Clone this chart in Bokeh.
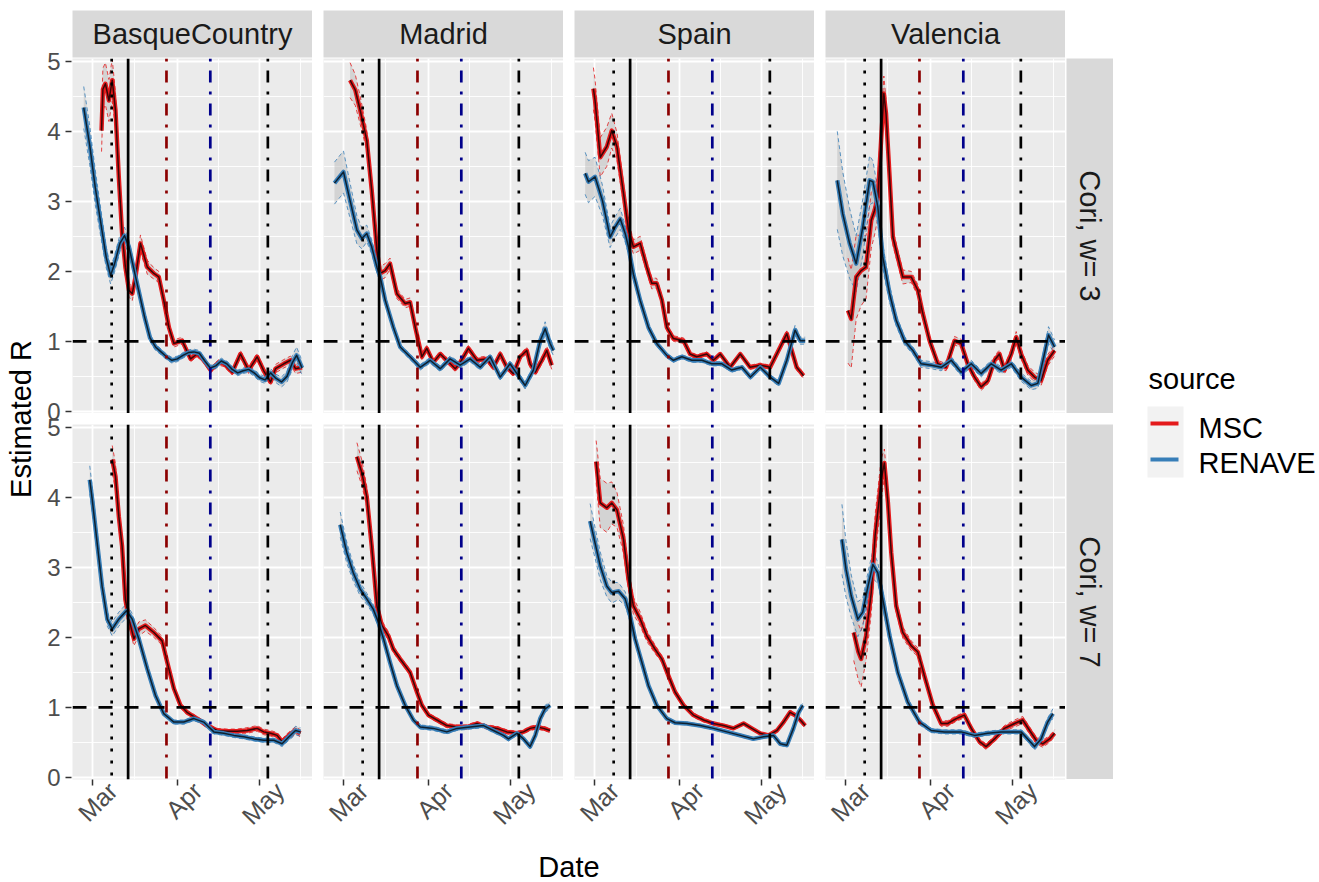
import math
import pandas as pd
from bokeh.plotting import figure
from bokeh.layouts import row, column
from bokeh.models import (Range1d, FixedTicker, Span, DatetimeTickFormatter, Spacer,
                          ColumnDataSource, Grid, DatetimeAxis, CustomJSTickFormatter)
from bokeh.core.properties import value
from bokeh.embed import file_html
from bokeh.resources import INLINE

FONT = "Liberation Sans"
ORIGIN = pd.Timestamp("2020-03-01")

REGIONS = ["BasqueCountry", "Madrid", "Spain", "Valencia"]
WINDOWS = ["Cori, w= 3", "Cori, w= 7"]
SOURCES = ["MSC", "RENAVE"]
COLORS = {"MSC": "#E41A1C", "RENAVE": "#377EB8"}

# x-axis breaks (major labels and minor grid)
MONTH_TICKS = ["2020-03-01", "2020-04-01", "2020-05-01"]
MID_MONTH = ["2020-03-16 12:00", "2020-04-16", "2020-05-16"]
R_TICKS = [0, 1, 2, 3, 4, 5]
R_MINOR = [0.5, 1.5, 2.5, 3.5, 4.5]

# intervention dates
EVENT_DATES = ["2020-03-08", "2020-03-14", "2020-03-28", "2020-04-13", "2020-05-04"]
EVENT_COLORS = ["black", "black", "#8B0000", "#00008B", "black"]
EVENT_DASH = ["3 9", "solid", "3 9 12 9", "3 9 12 9", "3 9 12 9"]
THRESHOLD = 1.0

# ---- estimated R (days since 1 March, mean R, half width of interval) ----
# Basque Country, w = 3
BASQUE_W3_RENAVE_DAY = [-3.2, -1, 1, 3, 5, 6.6, 8, 10, 11.7, 13.3, 15, 17, 19, 21, 23, 25, 27, 29, 31, 33,
                        35, 37, 39, 41, 43, 45, 47, 49, 51, 53, 55, 57, 59, 61, 63, 65, 67, 69, 71, 73, 74.5, 76.5]
BASQUE_W3_RENAVE_R = [4.34, 3.8, 3.2, 2.7, 2.2, 1.94, 2.1, 2.4, 2.51, 2.35, 2.05, 1.7, 1.35, 1.05, 0.92, 0.85,
                      0.78, 0.73, 0.75, 0.8, 0.84, 0.85, 0.83, 0.72, 0.62, 0.65, 0.72, 0.68, 0.6, 0.55, 0.58,
                      0.6, 0.55, 0.48, 0.45, 0.55, 0.47, 0.42, 0.5, 0.7, 0.8, 0.62]
BASQUE_W3_RENAVE_CI = [0.3, 0.28, 0.25, 0.2, 0.15, 0.12, 0.12, 0.12, 0.12, 0.1, 0.08, 0.07, 0.06, 0.05, 0.05,
                       0.04, 0.04, 0.04, 0.04, 0.04, 0.04, 0.04, 0.04, 0.04, 0.04, 0.04, 0.04, 0.04, 0.04,
                       0.04, 0.04, 0.04, 0.05, 0.05, 0.05, 0.06, 0.06, 0.07, 0.08, 0.1, 0.12, 0.1]
BASQUE_W3_MSC_DAY = [3.3, 3.8, 4.7, 6, 7.2, 8.4, 9.6, 10.8, 12, 13.3, 14.5, 15.7, 17.5, 20, 22.4, 24.2, 26,
                     27.9, 29.7, 32.7, 35.8, 38.2, 40.6, 43.1, 46.1, 48, 51, 54, 57, 60.1, 62.5, 65, 66.8,
                     69.8, 72.3, 74.1, 76.5]
BASQUE_W3_MSC_R = [4.01, 4.6, 4.68, 4.44, 4.73, 4.3, 3.35, 2.54, 2.06, 1.73, 1.68, 1.92, 2.4, 2.06, 1.97,
                   1.92, 1.59, 1.2, 0.97, 1.01, 0.75, 0.82, 0.73, 0.59, 0.7, 0.68, 0.56, 0.82, 0.59, 0.78,
                   0.58, 0.42, 0.61, 0.68, 0.73, 0.61, 0.63]
BASQUE_W3_MSC_CI = [0.3, 0.3, 0.3, 0.3, 0.3, 0.25, 0.2, 0.15, 0.12, 0.1, 0.1, 0.1, 0.12, 0.1, 0.08, 0.08,
                    0.07, 0.06, 0.05, 0.05, 0.04, 0.04, 0.04, 0.04, 0.04, 0.04, 0.04, 0.05, 0.05, 0.05,
                    0.05, 0.05, 0.06, 0.06, 0.06, 0.07, 0.07]

# Madrid, w = 3
MADRID_W3_RENAVE_DAY = [-3.3, 0, 2.4, 4.9, 6.7, 8.5, 10.3, 12.2, 13.4, 15.2, 18.2, 20.7, 24.3, 28, 31.6,
                        35.3, 38.9, 42.6, 46.2, 49.9, 53.5, 57.2, 60.8, 63.3, 66.3, 69.3, 71.8, 73.6, 75.4, 76.6]
MADRID_W3_RENAVE_R = [3.26, 3.42, 3.01, 2.59, 2.47, 2.54, 2.35, 2.06, 1.92, 1.59, 1.2, 0.92, 0.78, 0.63,
                      0.73, 0.61, 0.75, 0.66, 0.75, 0.63, 0.78, 0.49, 0.68, 0.54, 0.37, 0.59, 1.01, 1.18,
                      0.97, 0.87]
MADRID_W3_RENAVE_CI = [0.3, 0.3, 0.25, 0.2, 0.15, 0.12, 0.1, 0.08, 0.07, 0.06, 0.05, 0.04, 0.04, 0.04, 0.04,
                       0.04, 0.04, 0.04, 0.04, 0.04, 0.04, 0.04, 0.04, 0.04, 0.05, 0.05, 0.07, 0.1, 0.08, 0.07]
MADRID_W3_MSC_DAY = [2.4, 4.3, 6.1, 8.5, 10.3, 12.2, 13.4, 15.2, 17, 19.5, 22.5, 24.3, 26.2, 28.6, 30.4,
                     32.8, 35.3, 37.7, 40.8, 42.6, 45.6, 48.7, 52.3, 54.7, 57.2, 59.6, 62, 64.5, 66.9, 68.1,
                     70, 72.4, 74.2, 76]
MADRID_W3_MSC_R = [4.73, 4.59, 4.3, 3.87, 3.16, 2.3, 1.97, 2.01, 2.11, 1.68, 1.54, 1.56, 1.2, 0.78, 0.9,
                   0.7, 0.82, 0.73, 0.61, 0.7, 0.9, 0.73, 0.75, 0.63, 0.82, 0.63, 0.54, 0.78, 0.87, 0.68,
                   0.56, 0.73, 0.87, 0.66]
MADRID_W3_MSC_CI = [0.25, 0.22, 0.2, 0.15, 0.12, 0.1, 0.1, 0.1, 0.08, 0.07, 0.06, 0.06, 0.05, 0.04, 0.04,
                    0.04, 0.04, 0.04, 0.04, 0.04, 0.04, 0.04, 0.04, 0.04, 0.04, 0.04, 0.04, 0.04, 0.05,
                    0.05, 0.05, 0.05, 0.06, 0.06]

# Spain, w = 3
SPAIN_W3_RENAVE_DAY = [-3.4, -2.2, 0.2, 2.9, 5.7, 7.5, 9.4, 11.2, 12.4, 14.2, 16.7, 19.7, 22.7, 26.4, 28.8,
                       31.9, 35.5, 39.2, 42.8, 46.5, 50.1, 53.8, 56.9, 60.5, 64.1, 67.2, 70.2, 73.2, 75.1, 76.9]
SPAIN_W3_RENAVE_R = [3.4, 3.28, 3.35, 3.01, 2.49, 2.63, 2.75, 2.54, 2.35, 1.96, 1.58, 1.2, 0.97, 0.8, 0.73,
                     0.78, 0.73, 0.73, 0.68, 0.68, 0.59, 0.63, 0.49, 0.63, 0.49, 0.4, 0.73, 1.16, 1.01, 1.01]
SPAIN_W3_RENAVE_CI = [0.3, 0.3, 0.28, 0.22, 0.15, 0.15, 0.15, 0.12, 0.1, 0.08, 0.06, 0.05, 0.04, 0.03, 0.03,
                      0.03, 0.03, 0.03, 0.03, 0.03, 0.03, 0.03, 0.03, 0.03, 0.03, 0.04, 0.05, 0.07, 0.05, 0.05]
SPAIN_W3_MSC_DAY = [-0.4, 0.2, 2.1, 4.5, 6.3, 8.2, 10.6, 12.4, 14.2, 16.7, 19.1, 20.9, 22.7, 24.6, 26.4,
                    28.8, 32.5, 34.9, 37.3, 41, 43.4, 45.9, 49.5, 53.2, 56.8, 60.5, 64.1, 67.8, 70.2, 72,
                    73.8, 76.3]
SPAIN_W3_MSC_R = [4.61, 4.44, 3.63, 3.78, 4.01, 3.78, 3.11, 2.59, 2.35, 2.4, 2.06, 1.83, 1.83, 1.59, 1.2,
                  1.04, 1.01, 0.82, 0.78, 0.82, 0.73, 0.82, 0.63, 0.82, 0.63, 0.66, 0.63, 0.92, 1.11, 0.87,
                  0.63, 0.51]
SPAIN_W3_MSC_CI = [0.3, 0.3, 0.28, 0.28, 0.25, 0.2, 0.15, 0.12, 0.1, 0.1, 0.08, 0.08, 0.07, 0.06, 0.05,
                   0.04, 0.04, 0.03, 0.03, 0.03, 0.03, 0.03, 0.03, 0.03, 0.03, 0.03, 0.03, 0.04, 0.04, 0.04,
                   0.04, 0.04]

# Valencia, w = 3
VALENCIA_W3_RENAVE_DAY = [-3, -1, 1.5, 3.9, 6.3, 8.8, 10, 11.8, 13.6, 16.1, 18.5, 21.5, 24.6, 27.6, 31.3,
                          34.9, 38.6, 42.2, 45.9, 49.5, 53.2, 56.8, 60.5, 64.1, 67.8, 70.2, 72.6, 74.1, 76.3]
VALENCIA_W3_RENAVE_R = [3.3, 2.82, 2.4, 2.11, 2.63, 3.3, 3.28, 2.92, 2.21, 1.68, 1.3, 1.01, 0.87, 0.68,
                        0.66, 0.63, 0.73, 0.56, 0.68, 0.54, 0.68, 0.59, 0.68, 0.49, 0.37, 0.4, 0.82, 1.09, 0.92]
VALENCIA_W3_RENAVE_CI = [0.7, 0.6, 0.5, 0.4, 0.4, 0.35, 0.3, 0.25, 0.18, 0.12, 0.08, 0.06, 0.05, 0.05, 0.05,
                         0.05, 0.05, 0.05, 0.05, 0.05, 0.05, 0.05, 0.05, 0.06, 0.06, 0.07, 0.1, 0.12, 0.1]
VALENCIA_W3_MSC_DAY = [0.9, 2.1, 3.9, 5.7, 7.5, 9.4, 10.6, 11.8, 13, 14, 14.8, 16.1, 17.3, 19.1, 20.9, 24,
                       26.4, 28.2, 30.7, 33.7, 36.7, 39.8, 42.2, 44.6, 47.1, 49.5, 52, 54.4, 56.2, 58, 60.5,
                       62.3, 64.1, 66.5, 69, 71.4, 73.8, 76.3]
VALENCIA_W3_MSC_R = [1.44, 1.32, 1.92, 2.01, 2.06, 2.73, 2.87, 3.06, 3.87, 4.54, 4.25, 3.35, 2.49, 2.2, 1.92,
                     1.92, 1.73, 1.4, 1.01, 0.68, 0.63, 1.01, 0.97, 0.68, 0.49, 0.35, 0.44, 0.73, 0.82, 0.59,
                     0.82, 1.06, 0.82, 0.59, 0.49, 0.44, 0.73, 0.87]
VALENCIA_W3_MSC_CI = [0.75, 0.7, 0.6, 0.5, 0.45, 0.4, 0.35, 0.3, 0.25, 0.25, 0.2, 0.15, 0.12, 0.1, 0.1, 0.08,
                      0.08, 0.07, 0.06, 0.05, 0.05, 0.06, 0.06, 0.05, 0.05, 0.05, 0.05, 0.06, 0.06, 0.06,
                      0.07, 0.08, 0.07, 0.07, 0.07, 0.07, 0.08, 0.08]

# Basque Country, w = 7
BASQUE_W7_RENAVE_DAY = [-1, -0.1, 1.7, 3.5, 5.4, 7.2, 9.6, 12.4, 14.5, 16.9, 20, 23, 26, 29.7, 33.3, 37,
                        40.6, 44.3, 47.9, 51.6, 55.2, 58.9, 62.5, 66.2, 69.2, 71.7, 74.1, 75.9]
BASQUE_W7_RENAVE_R = [4.25, 3.97, 3.35, 2.73, 2.26, 2.12, 2.26, 2.38, 2.26, 1.98, 1.55, 1.17, 0.91, 0.79,
                      0.79, 0.84, 0.79, 0.65, 0.63, 0.6, 0.58, 0.55, 0.53, 0.53, 0.48, 0.58, 0.67, 0.65]
BASQUE_W7_RENAVE_CI = [0.2, 0.18, 0.15, 0.12, 0.1, 0.1, 0.1, 0.1, 0.08, 0.06, 0.05, 0.04, 0.03, 0.03, 0.03,
                       0.03, 0.03, 0.03, 0.03, 0.03, 0.03, 0.03, 0.03, 0.03, 0.04, 0.05, 0.06, 0.06]
BASQUE_W7_MSC_DAY = [7.2, 8.4, 9.6, 10.8, 12, 13.3, 15.1, 16.9, 19.3, 22.4, 25.4, 27.3, 29.7, 32.1, 34.5,
                     38.2, 41.8, 45.5, 49.1, 52.8, 56.4, 60.1, 62.5, 65, 67.4, 69.2, 71.7, 74.1, 75.9]
BASQUE_W7_MSC_R = [4.54, 4.3, 3.73, 3.3, 2.54, 2.26, 1.98, 2.12, 2.17, 2.07, 1.95, 1.64, 1.27, 1.03, 0.93,
                   0.84, 0.74, 0.67, 0.66, 0.66, 0.67, 0.7, 0.65, 0.63, 0.6, 0.51, 0.6, 0.67, 0.63]
BASQUE_W7_MSC_CI = [0.2, 0.18, 0.15, 0.12, 0.1, 0.1, 0.1, 0.1, 0.08, 0.07, 0.06, 0.05, 0.04, 0.04, 0.03,
                    0.03, 0.03, 0.03, 0.03, 0.03, 0.04, 0.04, 0.04, 0.04, 0.04, 0.04, 0.05, 0.05, 0.05]

# Madrid, w = 7
MADRID_W7_RENAVE_DAY = [-1.2, 1.2, 3.6, 6.1, 8.5, 10.9, 12.8, 14.6, 17, 19.5, 22.5, 25.5, 28, 32.8, 37.7,
                        41.4, 46.2, 51.1, 54.7, 58.4, 60.2, 63.3, 65.7, 68.1, 70, 71.8, 73.6, 75.4]
MADRID_W7_RENAVE_R = [3.61, 3.21, 2.92, 2.69, 2.55, 2.4, 2.21, 1.98, 1.64, 1.31, 1.03, 0.82, 0.72, 0.7,
                      0.65, 0.7, 0.72, 0.74, 0.67, 0.6, 0.55, 0.63, 0.55, 0.44, 0.6, 0.84, 0.98, 1.03]
MADRID_W7_RENAVE_CI = [0.18, 0.15, 0.12, 0.1, 0.08, 0.07, 0.06, 0.05, 0.04, 0.04, 0.03, 0.03, 0.03, 0.03,
                       0.03, 0.03, 0.03, 0.03, 0.03, 0.03, 0.03, 0.03, 0.03, 0.03, 0.03, 0.04, 0.05, 0.05]
MADRID_W7_MSC_DAY = [4.9, 6.7, 8.5, 10.3, 12.2, 14, 16.4, 18.2, 20.7, 24.3, 26.8, 28.6, 31, 34.1, 37.7,
                     41.4, 45, 48.7, 52.3, 56, 59.6, 63.3, 65.7, 68.1, 70.6, 73, 75.4]
MADRID_W7_MSC_R = [4.58, 4.35, 4.01, 3.3, 2.45, 2.17, 2.02, 1.83, 1.69, 1.5, 1.22, 1.03, 0.89, 0.82, 0.74,
                   0.72, 0.72, 0.77, 0.72, 0.7, 0.65, 0.63, 0.65, 0.7, 0.72, 0.7, 0.67]
MADRID_W7_MSC_CI = [0.2, 0.18, 0.15, 0.12, 0.08, 0.07, 0.06, 0.05, 0.04, 0.04, 0.03, 0.03, 0.03, 0.03, 0.03,
                    0.03, 0.03, 0.03, 0.03, 0.03, 0.03, 0.03, 0.03, 0.03, 0.03, 0.03, 0.03]

# Spain, w = 7
SPAIN_W7_RENAVE_DAY = [-1.6, 0.2, 2.1, 4.5, 6.3, 8.8, 11.2, 13, 14.8, 17.3, 19.7, 22.7, 26.4, 29.4, 33.7,
                       38.6, 43.4, 48.3, 53.2, 58, 61.7, 65.3, 67.8, 70.2, 72.6, 74.5, 76]
SPAIN_W7_RENAVE_R = [3.66, 3.35, 3.02, 2.73, 2.64, 2.66, 2.55, 2.31, 1.98, 1.64, 1.31, 1.03, 0.84, 0.78,
                     0.77, 0.74, 0.7, 0.65, 0.6, 0.55, 0.58, 0.6, 0.48, 0.46, 0.7, 0.93, 1.03]
SPAIN_W7_RENAVE_CI = [0.25, 0.22, 0.2, 0.15, 0.15, 0.12, 0.1, 0.08, 0.06, 0.05, 0.04, 0.03, 0.03, 0.02, 0.02,
                      0.02, 0.02, 0.02, 0.02, 0.02, 0.02, 0.02, 0.02, 0.03, 0.03, 0.03, 0.03]
SPAIN_W7_MSC_DAY = [0.6, 2.1, 4.5, 6.3, 8.2, 10.6, 12.4, 14.2, 16.7, 19.1, 22.1, 24.6, 27, 29.4, 32.5, 36.1,
                    39.8, 43.4, 47.1, 50.7, 54.4, 57.4, 60.5, 63.5, 66.6, 69, 71.4, 73.2, 75.1, 76.9]
SPAIN_W7_MSC_R = [4.51, 3.92, 3.85, 3.92, 3.82, 3.4, 2.83, 2.45, 2.26, 2.02, 1.83, 1.69, 1.45, 1.22, 1.03,
                  0.89, 0.82, 0.77, 0.74, 0.7, 0.77, 0.7, 0.63, 0.6, 0.67, 0.79, 0.93, 0.89, 0.82, 0.74]
SPAIN_W7_MSC_CI = [0.3, 0.35, 0.35, 0.3, 0.25, 0.2, 0.15, 0.12, 0.1, 0.08, 0.06, 0.05, 0.04, 0.04, 0.03,
                   0.03, 0.03, 0.02, 0.02, 0.02, 0.02, 0.02, 0.02, 0.02, 0.03, 0.03, 0.03, 0.03, 0.03, 0.03]

# Valencia, w = 7
VALENCIA_W7_RENAVE_DAY = [-1.3, 0.2, 2.1, 4.5, 6.3, 8.2, 10, 11.8, 13.6, 16.1, 19.1, 22.7, 27, 31.3, 36.1,
                          42.2, 47.1, 51.9, 56.8, 61.7, 64.1, 66.5, 69, 71.4, 73.8, 75.7]
VALENCIA_W7_RENAVE_R = [3.4, 2.97, 2.59, 2.26, 2.36, 2.73, 3.04, 2.92, 2.55, 2.02, 1.5, 1.08, 0.79, 0.67,
                        0.65, 0.65, 0.6, 0.63, 0.65, 0.65, 0.65, 0.55, 0.44, 0.55, 0.79, 0.91]
VALENCIA_W7_RENAVE_CI = [0.5, 0.4, 0.3, 0.25, 0.2, 0.2, 0.2, 0.15, 0.12, 0.1, 0.06, 0.05, 0.04, 0.03, 0.03,
                         0.03, 0.03, 0.03, 0.03, 0.03, 0.03, 0.04, 0.05, 0.05, 0.06, 0.07]
VALENCIA_W7_MSC_DAY = [3, 4.7, 5.7, 7.5, 9.4, 10.8, 12, 13, 14.2, 15.5, 16.7, 18.5, 20.9, 24, 26.4, 28.8,
                       31.9, 34.9, 37.3, 40.4, 43.4, 45.9, 48.9, 51.3, 54.4, 58, 61.7, 64.7, 67.2, 69.6, 72,
                       74.5, 76.3]
VALENCIA_W7_MSC_R = [2.07, 1.79, 1.69, 2.02, 2.64, 3.45, 3.87, 4.25, 4.49, 3.92, 3.21, 2.45, 2.07, 1.88, 1.79,
                     1.45, 1.03, 0.77, 0.77, 0.84, 0.89, 0.7, 0.51, 0.44, 0.55, 0.7, 0.77, 0.82, 0.67, 0.53,
                     0.48, 0.55, 0.63]
VALENCIA_W7_MSC_CI = [0.4, 0.4, 0.4, 0.35, 0.3, 0.3, 0.3, 0.3, 0.2, 0.15, 0.12, 0.1, 0.08, 0.07, 0.06, 0.05,
                      0.05, 0.04, 0.04, 0.04, 0.04, 0.04, 0.04, 0.04, 0.04, 0.04, 0.05, 0.05, 0.05, 0.05,
                      0.05, 0.05, 0.05]

SERIES = {
    ("BasqueCountry", 0, "MSC"): (BASQUE_W3_MSC_DAY, BASQUE_W3_MSC_R, BASQUE_W3_MSC_CI),
    ("BasqueCountry", 0, "RENAVE"): (BASQUE_W3_RENAVE_DAY, BASQUE_W3_RENAVE_R, BASQUE_W3_RENAVE_CI),
    ("Madrid", 0, "MSC"): (MADRID_W3_MSC_DAY, MADRID_W3_MSC_R, MADRID_W3_MSC_CI),
    ("Madrid", 0, "RENAVE"): (MADRID_W3_RENAVE_DAY, MADRID_W3_RENAVE_R, MADRID_W3_RENAVE_CI),
    ("Spain", 0, "MSC"): (SPAIN_W3_MSC_DAY, SPAIN_W3_MSC_R, SPAIN_W3_MSC_CI),
    ("Spain", 0, "RENAVE"): (SPAIN_W3_RENAVE_DAY, SPAIN_W3_RENAVE_R, SPAIN_W3_RENAVE_CI),
    ("Valencia", 0, "MSC"): (VALENCIA_W3_MSC_DAY, VALENCIA_W3_MSC_R, VALENCIA_W3_MSC_CI),
    ("Valencia", 0, "RENAVE"): (VALENCIA_W3_RENAVE_DAY, VALENCIA_W3_RENAVE_R, VALENCIA_W3_RENAVE_CI),
    ("BasqueCountry", 1, "MSC"): (BASQUE_W7_MSC_DAY, BASQUE_W7_MSC_R, BASQUE_W7_MSC_CI),
    ("BasqueCountry", 1, "RENAVE"): (BASQUE_W7_RENAVE_DAY, BASQUE_W7_RENAVE_R, BASQUE_W7_RENAVE_CI),
    ("Madrid", 1, "MSC"): (MADRID_W7_MSC_DAY, MADRID_W7_MSC_R, MADRID_W7_MSC_CI),
    ("Madrid", 1, "RENAVE"): (MADRID_W7_RENAVE_DAY, MADRID_W7_RENAVE_R, MADRID_W7_RENAVE_CI),
    ("Spain", 1, "MSC"): (SPAIN_W7_MSC_DAY, SPAIN_W7_MSC_R, SPAIN_W7_MSC_CI),
    ("Spain", 1, "RENAVE"): (SPAIN_W7_RENAVE_DAY, SPAIN_W7_RENAVE_R, SPAIN_W7_RENAVE_CI),
    ("Valencia", 1, "MSC"): (VALENCIA_W7_MSC_DAY, VALENCIA_W7_MSC_R, VALENCIA_W7_MSC_CI),
    ("Valencia", 1, "RENAVE"): (VALENCIA_W7_RENAVE_DAY, VALENCIA_W7_RENAVE_R, VALENCIA_W7_RENAVE_CI),
}


def ms(ts):
    return pd.Timestamp(ts).value / 1e6


# layout sizes (pixels)
W, H = 1319, 882
PW, PH = 240, 355          # panel frame
GAP = 11                   # space between panels
LEFT_W = 72                # y-axis title + tick labels
AXIS_H = 66                # x-axis area under the bottom row
STRIP_H = 47
TOP_PAD = 10
HEAD = TOP_PAD + STRIP_H + 1
RSTRIP_W = 47
BODY_H = PH + GAP + PH
LEGEND_W = W - LEFT_W - (PW + 3 * (GAP + PW)) - (RSTRIP_W + 1)
DATE_H = H - HEAD - BODY_H - AXIS_H
DATE_Y = 866               # centre line of the x-axis title

y_min, y_max = -0.03, 5.04
PPU = PH / (y_max - y_min)          # pixels per unit of R
ROW_SHIFT = (PH + GAP) / PPU        # offset of the upper row on the shared y-axis

X0 = ORIGIN - pd.Timedelta(days=7.3)
X1 = ORIGIN + pd.Timedelta(days=80.3)
x_range = Range1d(X0, X1)
DAY_PX = PW / ((X1 - X0) / pd.Timedelta(days=1))
# slanted month names sit to the right of their tick
LABEL_SHIFT = pd.Timedelta(days=20 / DAY_PX)
x_major = [ms(d) for d in MONTH_TICKS]
x_minor = [ms(d) for d in MID_MONTH]


def bare(p):
    p.outline_line_color = None
    p.grid.visible = False
    p.background_fill_color = None
    p.border_fill_color = "white"


def strip(label, w, h, left=0, top=0, bottom=0, angle=0.0):
    p = figure(width=w, height=h, x_range=Range1d(0, 1), y_range=Range1d(0, 1),
               x_axis_location=None, y_axis_location=None, output_backend="svg",
               toolbar_location=None, min_border=0, min_border_left=left,
               min_border_top=top, min_border_bottom=bottom)
    bare(p)
    p.background_fill_color = "#D9D9D9"
    p.text(x=[0.5], y=[0.5], text=[label], angle=angle, text_align="center",
           text_baseline="middle", text_font=value(FONT), text_font_size="29px",
           text_color="#1A1A1A")
    return p


def panel(region, r_i, c_i):
    left = 0 if c_i == 0 else GAP
    top = 0 if r_i == 0 else GAP
    bottom = 0 if r_i == 0 else AXIS_H
    p = figure(width=PW + left, height=PH + top + bottom, x_axis_type="datetime",
               x_range=x_range, y_range=Range1d(y_min, y_max),
               x_axis_location="below" if r_i == 1 else None, y_axis_location=None,
               output_backend="svg", toolbar_location=None, min_border=0,
               min_border_left=left, min_border_top=top, min_border_bottom=bottom)
    p.background_fill_color = "#EBEBEB"
    p.border_fill_color = "white"
    p.outline_line_color = None

    xt = FixedTicker(ticks=x_major, minor_ticks=x_minor)
    yt = FixedTicker(ticks=R_TICKS, minor_ticks=R_MINOR)
    if len(p.xgrid) == 0:
        p.add_layout(Grid(dimension=0, ticker=xt))
    if len(p.ygrid) == 0:
        p.add_layout(Grid(dimension=1, ticker=yt))
    for g in p.xgrid:
        g.ticker = xt
    for g in p.ygrid:
        g.ticker = yt
    p.grid.grid_line_color = "white"
    p.grid.grid_line_width = 1.8
    p.grid.minor_grid_line_color = "white"
    p.grid.minor_grid_line_width = 0.9

    if r_i == 1:
        # tick marks on the panel's own scale
        tick_axis = p.xaxis[0]
        tick_axis.ticker = xt
        tick_axis.formatter = CustomJSTickFormatter(code="return '';")
        tick_axis.axis_line_color = None
        tick_axis.major_tick_line_color = "#333333"
        tick_axis.major_tick_line_width = 1.5
        tick_axis.major_tick_in = 0
        tick_axis.major_tick_out = 6
        tick_axis.minor_tick_line_color = None
        tick_axis.major_label_text_font_size = "0px"
        tick_axis.major_label_standoff = 0
        # month names, slanted, on a copy of the scale nudged to the right
        p.extra_x_ranges = {"month_labels": Range1d(X0 - LABEL_SHIFT, X1 - LABEL_SHIFT)}
        label_axis = DatetimeAxis(x_range_name="month_labels",
                                  ticker=FixedTicker(ticks=x_major),
                                  formatter=DatetimeTickFormatter(days="%b", months="%b", years="%b"))
        label_axis.axis_line_color = None
        label_axis.major_tick_line_color = None
        label_axis.minor_tick_line_color = None
        label_axis.major_tick_in = 0
        label_axis.major_tick_out = 0
        label_axis.major_label_standoff = 1
        label_axis.major_label_orientation = math.pi / 4
        label_axis.major_label_text_font = FONT
        label_axis.major_label_text_font_size = "25px"
        label_axis.major_label_text_color = "#4D4D4D"
        p.add_layout(label_axis, "below")

    # confidence ribbons and their dashed bounds
    sources = {}
    for src in SOURCES:
        days, r, ci = SERIES[(region, r_i, src)]
        x = [ORIGIN + pd.Timedelta(days=d) for d in days]
        lo = [m - h for m, h in zip(r, ci)]
        hi = [m + h for m, h in zip(r, ci)]
        sources[src] = ColumnDataSource(dict(x=x, r=r, lo=lo, hi=hi))
    for src in SOURCES:
        p.varea(x="x", y1="lo", y2="hi", source=sources[src], fill_color="#B5B5B5", fill_alpha=0.45)
    for src in SOURCES:
        for col in ("lo", "hi"):
            p.line(x="x", y=col, source=sources[src], line_color=COLORS[src], line_width=1,
                   line_dash="4 3", line_alpha=0.8)
    # estimated R
    for src in SOURCES:
        p.line(x="x", y="r", source=sources[src], line_color=COLORS[src], line_width=4.4,
               line_join="round")
        p.line(x="x", y="r", source=sources[src], line_color="black", line_width=1.5,
               line_alpha=0.75, line_join="round")

    # reference lines
    for d, c, dash in zip(EVENT_DATES, EVENT_COLORS, EVENT_DASH):
        p.add_layout(Span(location=ms(d), dimension="height", line_color=c, line_width=2.7,
                          line_dash=dash))
    p.add_layout(Span(location=THRESHOLD, dimension="width", line_color="black", line_width=2.7,
                      line_dash="14 12"))
    return p


# shared y-axis for both rows, with the axis title
left = figure(width=LEFT_W, height=HEAD + BODY_H + AXIS_H, x_range=Range1d(0, 1),
              y_range=Range1d(y_min, y_min + BODY_H / PPU), x_axis_location=None,
              y_axis_location="left", output_backend="svg", toolbar_location=None,
              min_border=0, min_border_left=LEFT_W - 1, min_border_top=HEAD,
              min_border_bottom=AXIS_H)
bare(left)
yax = left.yaxis[0]
yax.ticker = FixedTicker(ticks=R_TICKS + [v + ROW_SHIFT for v in R_TICKS])
yax.formatter = CustomJSTickFormatter(args=dict(shift=ROW_SHIFT), code="""
    const v = tick > 5.2 ? tick - shift : tick;
    return Math.round(v).toString();
""")
yax.axis_line_color = None
yax.major_tick_line_color = "#333333"
yax.major_tick_line_width = 1.5
yax.major_tick_in = 0
yax.major_tick_out = 6
yax.minor_tick_line_color = None
yax.major_label_text_font = FONT
yax.major_label_text_font_size = "24px"
yax.major_label_text_color = "#4D4D4D"
yax.major_label_standoff = 5
yax.axis_label = "Estimated R"
yax.axis_label_text_font = FONT
yax.axis_label_text_font_size = "29px"
yax.axis_label_text_font_style = "normal"
yax.axis_label_text_color = "black"
yax.axis_label_standoff = 7

# facet strips and panels
strips = []
for c_i, region in enumerate(REGIONS):
    pad = 0 if c_i == 0 else GAP
    strips.append(strip(region, PW + pad, HEAD, left=pad, top=TOP_PAD, bottom=1))
grid_rows = [row(*strips)]
for r_i in range(2):
    grid_rows.append(row(*[panel(region, r_i, c_i) for c_i, region in enumerate(REGIONS)]))
center = column(*grid_rows)

rstrips = column(
    Spacer(width=RSTRIP_W + 1, height=HEAD),
    strip(WINDOWS[0], RSTRIP_W + 1, PH, left=1, angle=-math.pi / 2),
    strip(WINDOWS[1], RSTRIP_W + 1, PH + GAP, left=1, top=GAP, angle=-math.pi / 2),
    Spacer(width=RSTRIP_W + 1, height=AXIS_H),
)

# legend (y measured downward from the top of the panels)
leg = figure(width=LEGEND_W, height=HEAD + BODY_H + AXIS_H, x_range=Range1d(0, LEGEND_W),
             y_range=Range1d(BODY_H, 0), x_axis_location=None, y_axis_location=None,
             output_backend="svg", toolbar_location=None, min_border=0,
             min_border_top=HEAD, min_border_bottom=AXIS_H)
bare(leg)
leg.text(x=[35], y=[320], text=["source"], text_baseline="alphabetic", text_align="left",
         text_font=value(FONT), text_font_size="29px", text_color="black")
leg.quad(left=[34], right=[70], top=[348], bottom=[419], fill_color="#F2F2F2", line_color=None)
key_y = [365, 401]
leg.segment(x0=[37, 37], x1=[65, 65], y0=key_y, y1=key_y,
            line_color=[COLORS[s] for s in SOURCES], line_width=4)
leg.text(x=[85, 85], y=[369.5, 404.5], text=SOURCES, text_baseline="alphabetic",
         text_align="left", text_font=value(FONT), text_font_size="29px", text_color="black")

body = row(left, center, rstrips, leg)

# x-axis title
dlab = figure(width=W, height=DATE_H, x_range=Range1d(0, W), y_range=Range1d(DATE_H, 0),
              x_axis_location=None, y_axis_location=None, output_backend="svg",
              toolbar_location=None, min_border=0)
bare(dlab)
dlab.text(x=[LEFT_W + (4 * PW + 3 * GAP) / 2], y=[DATE_Y - (H - DATE_H)], text=["Date"],
          text_align="center", text_baseline="middle", text_font=value(FONT),
          text_font_size="29px", text_color="black")

page = column(body, dlab)

open("out.html", "w").write(file_html(page, INLINE))
